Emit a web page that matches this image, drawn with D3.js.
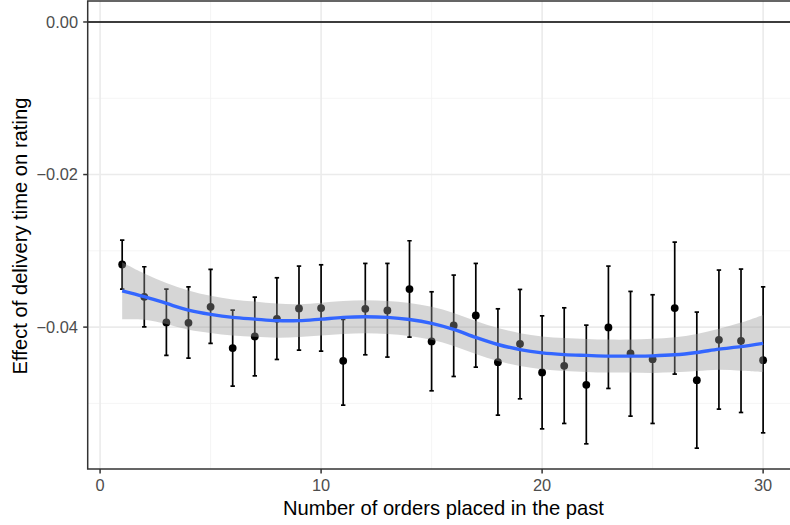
<!DOCTYPE html>
<html>
<head>
<meta charset="utf-8">
<title>Effect of delivery time on rating</title>
<script src="https://d3js.org/d3.v7.min.js"></script>
<style>
  body { margin: 0; background: #fff; }
  svg { display: block; font-family: "Liberation Sans", Arial, sans-serif; }
</style>
</head>
<body>
<svg id="chart" width="790" height="525"></svg>
<script>
// orders placed in the past (x)
var orders = [1,2,3,4,5,6,7,8,9,10,11,12,13,14,15,16,17,18,19,20,21,22,23,24,25,26,27,28,29,30];
// point estimate and 95% interval for each x
var estimate = [-0.03178,-0.03603,-0.03938,-0.03944,-0.03734,-0.04275,-0.04122,-0.03891,-0.03755,-0.03751,
                -0.04442,-0.03760,-0.03781,-0.03502,-0.04188,-0.03978,-0.03847,-0.04459,-0.04219,-0.04594,
                -0.04508,-0.04757,-0.04004,-0.04345,-0.04420,-0.03751,-0.04695,-0.04167,-0.04180,-0.04433];
var upper = [-0.02859,-0.03209,-0.03502,-0.03472,-0.03243,-0.03777,-0.03607,-0.03353,-0.03200,-0.03183,
             -0.03899,-0.03165,-0.03165,-0.02868,-0.03537,-0.03318,-0.03165,-0.03760,-0.03506,-0.03852,
             -0.03747,-0.03974,-0.03200,-0.03532,-0.03576,-0.02885,-0.03803,-0.03252,-0.03239,-0.03472];
var lower = [-0.03502,-0.03996,-0.04371,-0.04407,-0.04214,-0.04774,-0.04639,-0.04424,-0.04302,-0.04315,
             -0.05023,-0.04363,-0.04393,-0.04131,-0.04835,-0.04647,-0.04525,-0.05154,-0.04940,-0.05334,
             -0.05263,-0.05530,-0.04804,-0.05167,-0.05263,-0.04616,-0.05587,-0.05075,-0.05119,-0.05386];
// loess fit and its band
var smoothFit = [-0.03524,-0.03600,-0.03690,-0.03777,-0.03833,-0.03873,-0.03895,-0.03915,-0.03915,-0.03895,
                 -0.03873,-0.03865,-0.03873,-0.03900,-0.03950,-0.04030,-0.04135,-0.04228,-0.04295,-0.04338,
                 -0.04360,-0.04371,-0.04380,-0.04380,-0.04377,-0.04363,-0.04332,-0.04289,-0.04256,-0.04214];
var smoothHi = [-0.03150,-0.03298,-0.03421,-0.03521,-0.03590,-0.03637,-0.03665,-0.03692,-0.03699,-0.03679,
                -0.03657,-0.03649,-0.03657,-0.03684,-0.03734,-0.03814,-0.03919,-0.04012,-0.04079,-0.04122,
                -0.04144,-0.04155,-0.04164,-0.04164,-0.04154,-0.04133,-0.04089,-0.04020,-0.03941,-0.03840];
var smoothLo = [-0.03898,-0.03902,-0.03959,-0.04033,-0.04076,-0.04109,-0.04125,-0.04138,-0.04131,-0.04111,
                -0.04089,-0.04081,-0.04089,-0.04116,-0.04166,-0.04246,-0.04351,-0.04444,-0.04511,-0.04554,
                -0.04576,-0.04587,-0.04596,-0.04596,-0.04600,-0.04593,-0.04575,-0.04558,-0.04571,-0.04588];
var xTicks = [0, 10, 20, 30];
var xMinor = [5, 15, 25];
var yTicks = [0, -0.02, -0.04];
var yMinor = [-0.01, -0.03, -0.05];

var data = orders.map(function(d, i) {
  return {x: d, est: estimate[i], lo: lower[i], hi: upper[i],
          fit: smoothFit[i], sLo: smoothLo[i], sHi: smoothHi[i]};
});

var panel = {left: 87.7, top: 1, bottom: 469, right: 797.6};

var x = d3.scaleLinear().domain([-0.56, 31.56]).range([panel.left, panel.right]);
var y = d3.scaleLinear().domain([-0.0586, 0.00275]).range([panel.bottom, panel.top]);

var svg = d3.select('#chart');

svg.append('defs').append('clipPath').attr('id', 'clip')
  .append('rect')
  .attr('x', panel.left).attr('y', panel.top)
  .attr('width', panel.right - panel.left).attr('height', panel.bottom - panel.top);

var g = svg.append('g').attr('clip-path', 'url(#clip)');

// grid
g.selectAll('.ymin').data(yMinor).enter().append('line')
  .attr('x1', panel.left).attr('x2', panel.right)
  .attr('y1', d => y(d)).attr('y2', d => y(d))
  .attr('stroke', '#f2f2f2').attr('stroke-width', 0.8);
g.selectAll('.xmin').data(xMinor).enter().append('line')
  .attr('y1', panel.top).attr('y2', panel.bottom)
  .attr('x1', d => x(d)).attr('x2', d => x(d))
  .attr('stroke', '#f2f2f2').attr('stroke-width', 0.8);
g.selectAll('.ymaj').data(yTicks).enter().append('line')
  .attr('x1', panel.left).attr('x2', panel.right)
  .attr('y1', d => y(d)).attr('y2', d => y(d))
  .attr('stroke', '#ebebeb').attr('stroke-width', 1.6);
g.selectAll('.xmaj').data(xTicks).enter().append('line')
  .attr('y1', panel.top).attr('y2', panel.bottom)
  .attr('x1', d => x(d)).attr('x2', d => x(d))
  .attr('stroke', '#ebebeb').attr('stroke-width', 1.6);

// reference line at zero
g.append('line')
  .attr('x1', panel.left).attr('x2', panel.right)
  .attr('y1', y(0)).attr('y2', y(0))
  .attr('stroke', '#000').attr('stroke-width', 1.6);

// error bars
var capW = 0.1;
var eb = g.append('g').attr('stroke', '#000').attr('stroke-width', 1.7).attr('fill', 'none');
data.forEach(function(d) {
  eb.append('line').attr('x1', x(d.x)).attr('x2', x(d.x)).attr('y1', y(d.lo)).attr('y2', y(d.hi));
  eb.append('line').attr('x1', x(d.x - capW)).attr('x2', x(d.x + capW)).attr('y1', y(d.lo)).attr('y2', y(d.lo));
  eb.append('line').attr('x1', x(d.x - capW)).attr('x2', x(d.x + capW)).attr('y1', y(d.hi)).attr('y2', y(d.hi));
});

// points
g.selectAll('.pt').data(data).enter().append('circle')
  .attr('cx', d => x(d.x)).attr('cy', d => y(d.est))
  .attr('r', 3.9).attr('fill', '#000');

// smooth band + line
var area = d3.area().curve(d3.curveCatmullRom)
  .x(d => x(d.x)).y0(d => y(d.sLo)).y1(d => y(d.sHi));
g.append('path').datum(data).attr('d', area)
  .attr('fill', '#999999').attr('fill-opacity', 0.4);

var line = d3.line().curve(d3.curveCatmullRom)
  .x(d => x(d.x)).y(d => y(d.fit));
g.append('path').datum(data).attr('d', line)
  .attr('fill', 'none').attr('stroke', '#3366FF').attr('stroke-width', 3.4);

// panel border
svg.append('rect')
  .attr('x', panel.left).attr('y', panel.top)
  .attr('width', panel.right - panel.left).attr('height', panel.bottom - panel.top)
  .attr('fill', 'none').attr('stroke', '#333333').attr('stroke-width', 1.5);

// axes ticks and labels
var fmtY = function(d) { return d3.format('.2f')(d).replace('-', '\u2212'); };

svg.selectAll('.yt').data(yTicks).enter().append('line')
  .attr('x1', panel.left - 4.5).attr('x2', panel.left)
  .attr('y1', d => y(d)).attr('y2', d => y(d))
  .attr('stroke', '#333333').attr('stroke-width', 1.5);
svg.selectAll('.ytl').data(yTicks).enter().append('text')
  .attr('x', 78).attr('y', d => y(d)).attr('dy', '0.36em')
  .attr('text-anchor', 'end').attr('fill', '#4d4d4d').style('font-size', '16.4px')
  .text(fmtY);

svg.selectAll('.xt').data(xTicks).enter().append('line')
  .attr('y1', panel.bottom).attr('y2', panel.bottom + 4.5)
  .attr('x1', d => x(d)).attr('x2', d => x(d))
  .attr('stroke', '#333333').attr('stroke-width', 1.5);
svg.selectAll('.xtl').data(xTicks).enter().append('text')
  .attr('x', d => x(d)).attr('y', 490.5)
  .attr('text-anchor', 'middle').attr('fill', '#4d4d4d').style('font-size', '16.4px')
  .text(d => d);

// axis titles
svg.append('text')
  .attr('x', 443.5).attr('y', 515)
  .attr('text-anchor', 'middle').attr('fill', '#000').style('font-size', '20.2px')
  .text('Number of orders placed in the past');

svg.append('text')
  .attr('transform', 'translate(26.5,' + ((panel.top + panel.bottom) / 2 + 1) + ') rotate(-90)')
  .attr('text-anchor', 'middle').attr('fill', '#000').style('font-size', '20.2px')
  .text('Effect of delivery time on rating');
</script>
</body>
</html>
